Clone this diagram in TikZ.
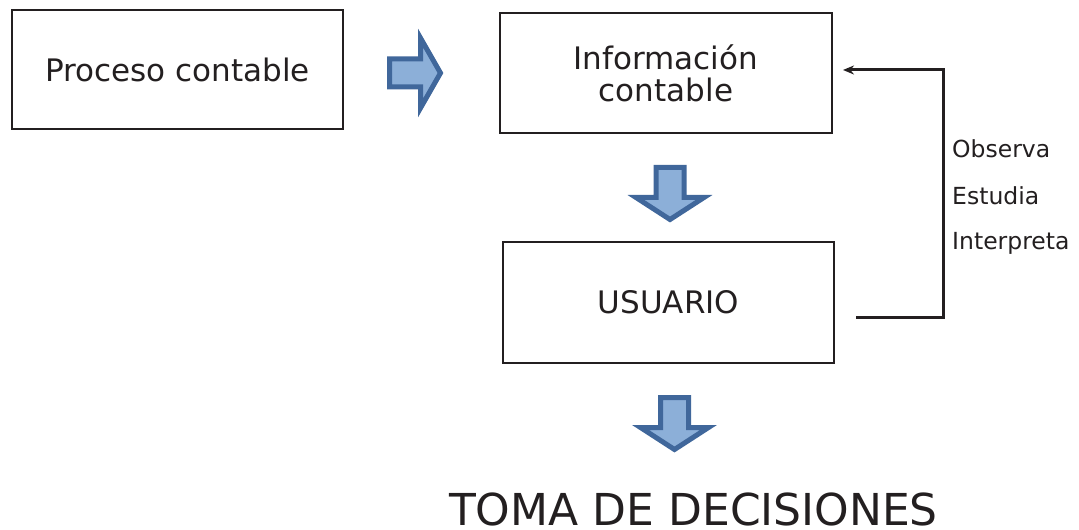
\documentclass[tikz,border=0pt]{standalone}
\usepackage{fontspec}
\setmainfont{DejaVu Sans}
\usepackage{tikz}
\usetikzlibrary{arrows.meta}
\definecolor{txtgray}{HTML}{231F20}
\definecolor{arrfill}{HTML}{8CAFD8}
\definecolor{arrline}{HTML}{40679B}
\tikzset{box/.style={draw=txtgray,line width=2.4bp,inner sep=0pt,
		text=txtgray,align=center,font=\fontsize{31bp}{32bp}\selectfont},
	blockarrow/.style={draw=arrline,fill=arrfill,line width=5bp,line join=miter},
	rightarr/.pic={\path[blockarrow] (0,-14) -- (31,-14) -- (31,-35) -- (51,0)
			-- (31,35) -- (31,14) -- (0,14) -- cycle;},
	downarr/.pic={\path[blockarrow] (-14,0) -- (-14,30) -- (-34,30) -- (0,52)
			-- (34,30) -- (14,30) -- (14,0) -- cycle;},
	verb/.style={anchor=base west,inner sep=0pt,text=txtgray,
		font=\fontsize{23.5bp}{24bp}\selectfont}}

\begin{document}
\begin{tikzpicture}[x=1bp,y=-1bp]
		\useasboundingbox (0,0) rectangle (1079,530);
		\node[box,minimum width=331bp,minimum height=119bp] (proc) at (177.5,69.5) {Proceso contable};
		\node[box,minimum width=332bp,minimum height=120bp] (info) at (666,73) {Información\\contable};
		\node[box,minimum width=331bp,minimum height=121bp] (user) at (668.5,302.5) {USUARIO};
		\node[anchor=base,inner sep=0pt,text depth=0pt,text=txtgray,font=\fontsize{44bp}{44bp}\selectfont] (toma) at (693.5,525) {TOMA DE DECISIONES};
		% block arrows
		\pic (arr1) at (389.5,73) {rightarr};
		\pic (arr2) at (670,167.5) {downarr};
		\pic (arr3) at (674.5,397.5) {downarr};
		% feedback
		\coordinate (fbs) at (856,318);
		\coordinate (fbc) at (943,318);
		\coordinate (fbe) at (843,70);
		\draw[-{Stealth[length=11bp,width=9bp]},line width=3bp,txtgray] (fbs) -- (fbc) |- (fbe);
		\node[verb] (obs) at (952,158) {Observa};
		\node[verb] (est) at (952,205) {Estudia};
		\node[verb] (int) at (952,250) {Interpreta};
	\end{tikzpicture}
\end{document}
